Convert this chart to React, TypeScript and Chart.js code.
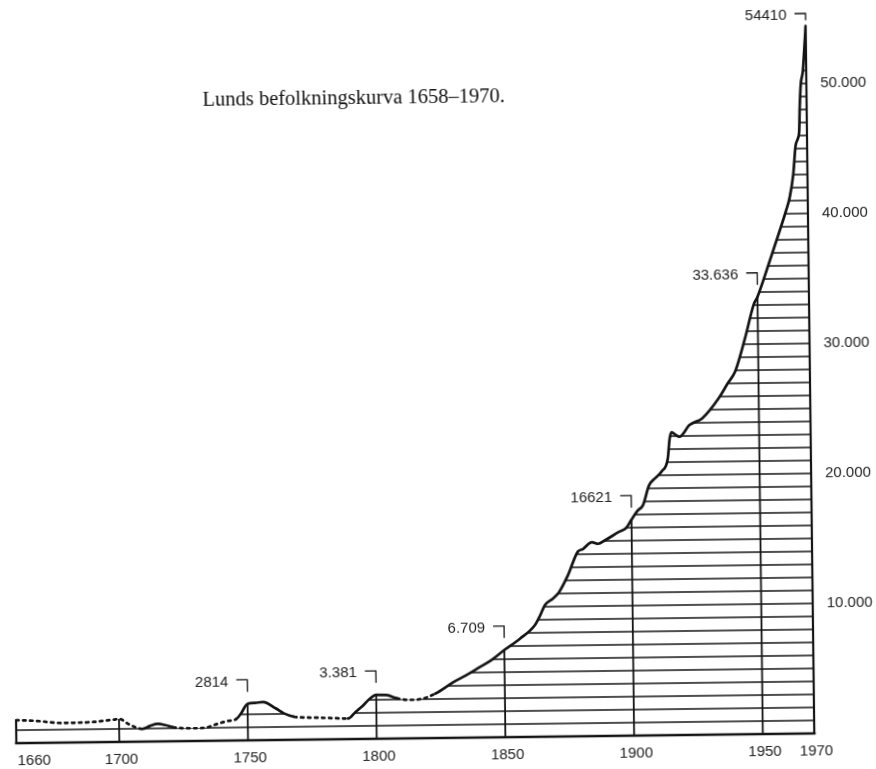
import React, { useEffect, useRef } from "react";
import { Chart, registerables } from "chart.js";

Chart.register(...registerables);

const TITLE = "Lunds befolkningskurva 1658–1970.";

const YEARS = [
  1660, 1668, 1678, 1690, 1698, 1700, 1704, 1709, 1712, 1715, 1718, 1721, 1728, 1733, 1738, 1742,
  1745.5, 1747.5, 1749, 1750, 1753, 1756, 1761, 1764, 1768, 1773, 1778, 1784, 1789, 1792, 1795,
  1797, 1800, 1804, 1808, 1813, 1818, 1823, 1830, 1835, 1840, 1845, 1850, 1856, 1862, 1864, 1866,
  1869, 1871.5, 1875, 1879, 1881, 1884.5, 1887, 1889.5, 1895, 1898, 1900, 1902.5, 1904.5, 1907,
  1909.5, 1912, 1914.4, 1915.2, 1916, 1917.5, 1919, 1923, 1928, 1934.5, 1938, 1941, 1945, 1948.5,
  1950, 1954.5, 1958.5, 1961.5, 1963, 1964.5, 1965.5, 1966.5, 1967, 1967.3, 1967.8, 1968.7, 1969.3,
  1970,
];

const POPULATION = [
  1770, 1690, 1510, 1560, 1720, 1770, 1330, 980, 1200, 1350, 1250, 1080, 980, 1000, 1280, 1500,
  1650, 2100, 2600, 2814, 2880, 2930, 2420, 2050, 1770, 1700, 1670, 1620, 1580, 2100, 2600,
  3000, 3381, 3350, 3100, 2960, 3040, 3420, 4280, 4800, 5370, 5950, 6709, 7540, 8600, 9300, 10130,
  10600, 11100, 12370, 14200, 14400, 14920, 14790, 15040, 15680, 16000, 16621, 17320, 17700, 19240,
  19800, 20300, 21290, 22800, 23300, 23100, 22950, 23840, 24350, 25880, 27000, 27930, 30490, 33050,
  33636, 36130, 38440, 40230, 41260, 43050, 45200, 45800, 46350, 48100, 49900, 50950, 52500,
  54410,
];

// stretches of the curve drawn dotted (uncertain figures)
const DOTTED_RANGES: [number, number][] = [
  [1660, 1709],
  [1721, 1745.5],
  [1768, 1789],
  [1808, 1823],
];

const X_TICK_YEARS = [1660, 1700, 1750, 1800, 1850, 1900, 1950, 1970];
const X_TICK_LABELS = ["1660", "1700", "1750", "1800", "1850", "1900", "1950", "1970"];
const Y_TICKS = [10000, 20000, 30000, 40000, 50000];
const Y_TICK_LABELS = ["10.000", "20.000", "30.000", "40.000", "50.000"];
const DIVIDER_YEARS = [1700, 1750, 1800, 1850, 1900, 1950];

const ANNOTATION_YEARS = [1750, 1800, 1850, 1900, 1950, 1970];
const ANNOTATION_VALUES = [2814, 3381, 6709, 16621, 33636, 54410];
const ANNOTATION_LABELS = ["2814", "3.381", "6.709", "16621", "33.636", "54410"];

const X_MIN = 1660;
const X_MAX = 1970;
const Y_MAX = 56000;
const HATCH_STEP = 1000;

const INK = "#141414";
const TEXT = "#222";
const SANS = "'Liberation Sans', Arial, sans-serif";
const SERIF = "'Liberation Serif', 'Times New Roman', serif";

function isDotted(a: number, b: number) {
  return DOTTED_RANGES.some(([s, e]) => a >= s && b <= e);
}

function tracePath(ctx: CanvasRenderingContext2D, pts: any[]) {
  for (let i = 1; i < pts.length; i++) {
    const p = pts[i - 1];
    const q = pts[i];
    if (p.cp2x !== undefined && q.cp1x !== undefined) {
      ctx.bezierCurveTo(p.cp2x, p.cp2y, q.cp1x, q.cp1y, q.x, q.y);
    } else {
      ctx.lineTo(q.x, q.y);
    }
  }
}

const drawPlugin = {
  id: "lundDecor",
  beforeDatasetsDraw(chart: any) {
    const { ctx } = chart;
    const xs = chart.scales.x;
    const ys = chart.scales.y;
    const pts = chart.getDatasetMeta(0).data;
    const base = ys.getPixelForValue(0);
    const xl = xs.getPixelForValue(X_MIN);
    const xr = xs.getPixelForValue(X_MAX);

    ctx.save();
    ctx.beginPath();
    ctx.moveTo(pts[0].x, base);
    ctx.lineTo(pts[0].x, pts[0].y);
    tracePath(ctx, pts);
    ctx.lineTo(pts[pts.length - 1].x, base);
    ctx.closePath();
    ctx.clip();

    ctx.strokeStyle = INK;
    ctx.lineWidth = 1.6;
    const top = Math.max(...POPULATION);
    for (let v = HATCH_STEP; v < top; v += HATCH_STEP) {
      const py = ys.getPixelForValue(v);
      ctx.beginPath();
      ctx.moveTo(xl, py);
      ctx.lineTo(xr, py);
      ctx.stroke();
    }
    ctx.lineWidth = 1.8;
    DIVIDER_YEARS.forEach((yr) => {
      const px = xs.getPixelForValue(yr);
      ctx.beginPath();
      ctx.moveTo(px, base);
      ctx.lineTo(px, ys.top);
      ctx.stroke();
    });
    ctx.restore();

    ctx.save();
    ctx.strokeStyle = INK;
    ctx.lineCap = "square";
    ctx.lineWidth = 2.2;
    ctx.beginPath();
    ctx.moveTo(xl, base);
    ctx.lineTo(xl, ys.getPixelForValue(POPULATION[0]));
    ctx.moveTo(xr, base);
    ctx.lineTo(xr, ys.getPixelForValue(POPULATION[POPULATION.length - 1]));
    ctx.stroke();
    ctx.lineWidth = 2.6;
    ctx.beginPath();
    ctx.moveTo(xl, base);
    ctx.lineTo(xr, base);
    ctx.stroke();
    ctx.restore();
  },
  afterDatasetsDraw(chart: any) {
    const { ctx } = chart;
    const xs = chart.scales.x;
    const ys = chart.scales.y;
    const base = ys.getPixelForValue(0);

    ctx.save();
    ctx.fillStyle = TEXT;
    ctx.font = `15px ${SANS}`;
    ctx.textBaseline = "middle";
    X_TICK_YEARS.forEach((yr, i) => {
      const px = xs.getPixelForValue(yr);
      ctx.textAlign = i === 0 ? "left" : "center";
      ctx.fillText(X_TICK_LABELS[i], i === 0 ? px + 1 : px + 2, base + 18);
    });

    ctx.strokeStyle = INK;
    ctx.lineWidth = 1.3;
    ANNOTATION_YEARS.forEach((yr, i) => {
      const px = xs.getPixelForValue(yr);
      const py = ys.getPixelForValue(ANNOTATION_VALUES[i]);
      const ty = Math.max(py - 22, ys.top + 10);
      const hookTop = ty - 2;
      const hookBottom = Math.min(ty + 10, py - 6);
      ctx.beginPath();
      ctx.moveTo(px - 11, hookTop);
      ctx.lineTo(px, hookTop);
      ctx.lineTo(px, hookBottom);
      ctx.stroke();
      ctx.textAlign = "right";
      ctx.fillText(ANNOTATION_LABELS[i], px - 19, ty);
    });

    ctx.fillStyle = "#111";
    ctx.font = `20.5px ${SERIF}`;
    ctx.textAlign = "left";
    ctx.textBaseline = "alphabetic";
    ctx.fillText(TITLE, 206, 103);
    ctx.restore();
  },
};

export default function App() {
  const ref = useRef<HTMLCanvasElement>(null);
  useEffect(() => {
    const chart = new Chart(ref.current as HTMLCanvasElement, {
      type: "line",
      data: {
        datasets: [
          {
            data: YEARS.map((yr, i) => ({ x: yr, y: POPULATION[i] })),
            borderColor: INK,
            borderWidth: 2.7,
            borderCapStyle: "round",
            borderJoinStyle: "round",
            pointRadius: 0,
            cubicInterpolationMode: "monotone",
            fill: false,
            segment: {
              borderDash: (c: any) => (isDotted(c.p0.parsed.x, c.p1.parsed.x) ? [2.5, 4.5] : undefined),
            },
          } as any,
        ],
      },
      options: {
        responsive: false,
        animation: false,
        events: [],
        layout: { padding: { left: 12, right: 0, top: 10, bottom: 31 } },
        plugins: {
          legend: { display: false },
          tooltip: { enabled: false },
          title: { display: false },
        },
        scales: {
          x: { type: "linear", min: X_MIN, max: X_MAX, display: false },
          y: {
            type: "linear",
            position: "right",
            min: 0,
            max: Y_MAX,
            afterBuildTicks: (s: any) => {
              s.ticks = Y_TICKS.map((v) => ({ value: v }));
            },
            afterFit: (s: any) => {
              s.width = 66;
              s.paddingTop = 0;
              s.paddingBottom = 0;
            },
            grid: { display: false, drawTicks: false },
            border: { display: false },
            ticks: {
              padding: 14,
              color: TEXT,
              font: { family: SANS, size: 15 },
              callback: (v: any) => {
                const i = Y_TICKS.indexOf(Number(v));
                return i >= 0 ? Y_TICK_LABELS[i] : "";
              },
            },
          },
        },
      },
      plugins: [drawPlugin],
    } as any);
    return () => chart.destroy();
  }, []);
  return (
    <div
      style={{
        position: "fixed",
        left: 0,
        top: 0,
        width: 876,
        height: 769,
        background: "#fff",
        transform: "rotate(-0.7deg)",
        transformOrigin: "438px 384px",
      }}
    >
      <canvas ref={ref} width={876} height={769} style={{ display: "block", width: 876, height: 769 }} />
    </div>
  );
}
